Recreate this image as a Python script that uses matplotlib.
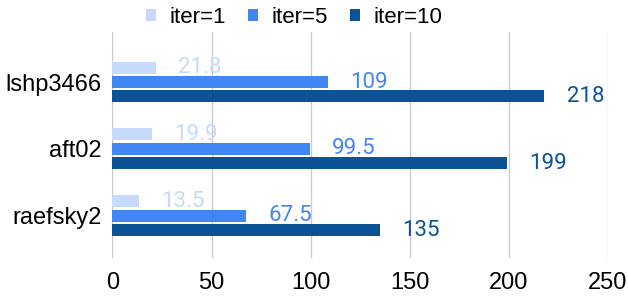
import numpy as np
import matplotlib
matplotlib.use("Agg")
import matplotlib.pyplot as plt

# data
matrices = ['lshp3466', 'aft02', 'raefsky2']
series_names = ['iter=1', 'iter=5', 'iter=10']
iter1 = [21.8, 19.9, 13.5]
iter5 = [109, 99.5, 67.5]
iter10 = [218, 199, 135]
value_labels = [['21.8', '19.9', '13.5'],
                ['109', '99.5', '67.5'],
                ['218', '199', '135']]
xticks = [0, 50, 100, 150, 200, 250]

colors = ['#c6dafc', '#4285f4', '#0b5394']

fig = plt.figure(figsize=(6.28, 2.98), dpi=100)
ax = fig.add_axes([0.179, 0.134, 0.789, 0.758])

y = np.arange(len(matrices))
offsets = [-0.216, 0, 0.216]
bar_h = 0.18

for i, vals in enumerate([iter1, iter5, iter10]):
    bars = ax.barh(y + offsets[i], vals, height=bar_h, color=colors[i],
                   label=series_names[i], zorder=3)
    for b, txt in zip(bars, value_labels[i]):
        ax.annotate(txt, (b.get_width(), b.get_y() + b.get_height() / 2),
                    xytext=(16, 0), textcoords='offset points',
                    va='center', ha='left', color=colors[i],
                    fontsize=16, family='Roboto')

ax.set_ylim(len(matrices) - 1 + 0.634, -0.746)
ax.set_xlim(0, 250)
ax.set_yticks(y)
ax.set_yticklabels(matrices, fontsize=17, family='Liberation Sans')
ax.set_xticks(xticks)
ax.set_xticklabels([str(t) for t in xticks], fontsize=17, family='Liberation Sans')
ax.tick_params(length=0)
ax.tick_params(axis='y', pad=8)
ax.tick_params(axis='x', pad=10)
ax.grid(axis='x', color='#cccccc', linewidth=1, zorder=0)
for s in ax.spines.values():
    s.set_visible(False)

fig.legend(loc='upper center', bbox_to_anchor=(0.468, 1.045), ncol=3,
           frameon=False, handlelength=0.45, handleheight=0.45,
           handletextpad=0.6, columnspacing=1.0,
           prop={'family': 'Liberation Sans', 'size': 16})

fig.savefig('out.png', dpi=100)
